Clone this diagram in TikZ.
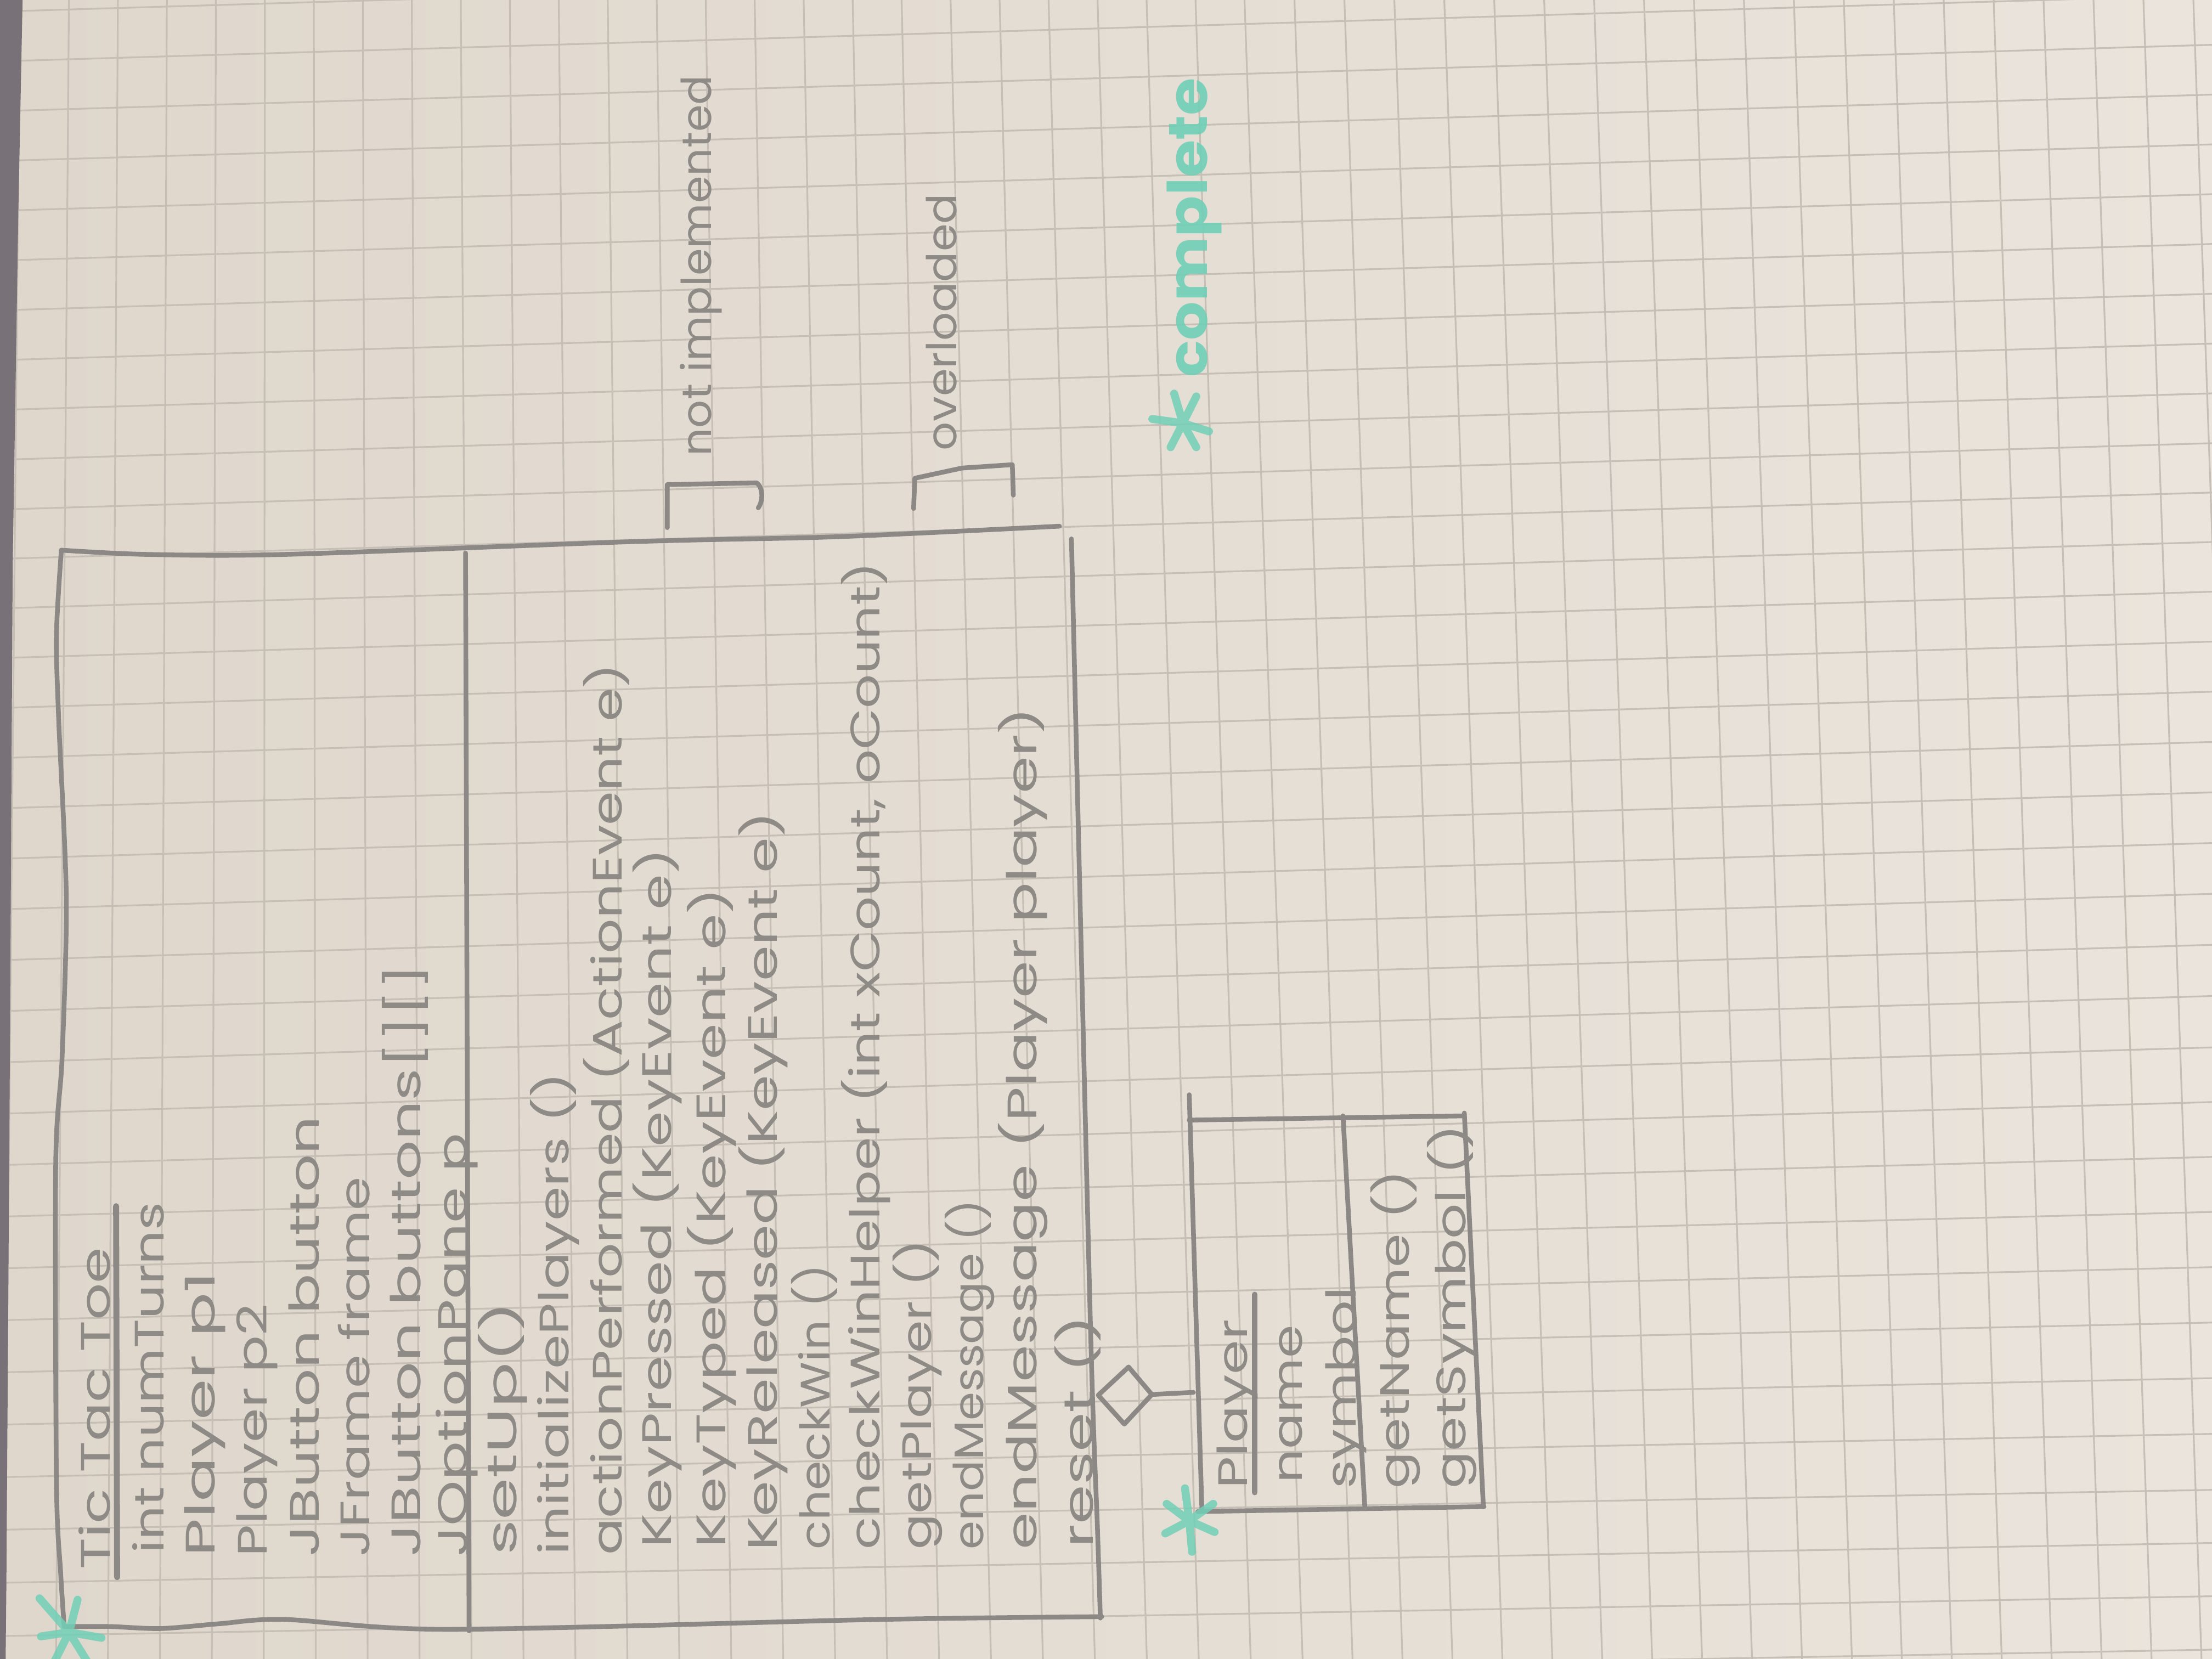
\documentclass[tikz,border=0pt]{standalone}
\usepackage{fontspec}
\setmainfont{Poppins}
\usepackage{graphicx}
\definecolor{paperL}{RGB}{223,215,204}
\definecolor{paperR}{RGB}{234,228,220}
\definecolor{gridc}{RGB}{198,191,182}
\definecolor{pencil}{RGB}{142,138,134}
\definecolor{lead}{RGB}{140,136,133}
\definecolor{marker}{RGB}{112,207,183}
\definecolor{desk}{RGB}{120,113,119}
\newlength\upx
\setlength\upx{0.01cm}
% squeeze or stretch a label to a given run length (in 0.01cm units)
\newcommand\fitto[2]{\resizebox{#1\upx}{\height}{#2}}
\tikzset{
  gridline/.style={draw=gridc, line width=0.35pt},
  pen/.style={draw=lead, line width=0.95pt, line cap=round, line join=round},
  txt/.style={text=pencil, inner sep=0pt, rotate=90, anchor=base west,
              font=\fontsize{8.3}{10}\selectfont},
  hl/.style={text=marker, text opacity=0.9, inner sep=0pt, rotate=90, anchor=base west,
             font=\fontsize{11}{13}\selectfont\bfseries},
  markstroke/.style={draw=marker, line width=1.6pt, line cap=round, opacity=0.85},
}
\begin{document}
\begin{tikzpicture}[x=0.01cm,y=-0.01cm]
\useasboundingbox (0,0) rectangle (1568,1176);
% paper
\shade[left color=paperL,right color=paperR] (0,0) rectangle (1568,1176);
% graph-paper ruling
\begin{scope}
  \clip (0,0) rectangle (1568,1176);
  \foreach \i in {-1,...,44} {
    \pgfmathsetmacro\P{45.9+35.4*\i}
    \pgfmathsetmacro\s{min(0.035,-0.0078+0.00179*\i)}
    \pgfmathsetmacro\xa{\P+\s*(0-380)}
    \pgfmathsetmacro\xb{\P+\s*(1176-380)}
    \draw[gridline] (\xa,0) -- (\xb,1176);
  }
  \foreach \j in {-11,...,25} {
    \pgfmathsetmacro\L{\j<0 ? 358.2+35.3*\j : 358.2+34.9*\j+0.066*(\j)*(\j)}
    \pgfmathsetmacro\t{\j<=12 ? -0.03 : (\j<=20 ? -0.03+0.0015*(\j-12) : -0.018)}
    \pgfmathsetmacro\ya{\L+\t*(0-100)}
    \pgfmathsetmacro\yb{\L+\t*(1568-100)}
    \draw[gridline] (0,\ya) -- (1568,\yb);
  }
\end{scope}
% desk showing past the sheet edge
\fill[desk] (0,0) -- (16,0) -- (13,150) -- (9,400) -- (7,750) -- (4.5,1125) -- (4,1176) -- (0,1176) -- cycle;

% ---- class TicTacToe ----
\draw[pen] plot[smooth,tension=0.5] coordinates {(43.5,390) (104,393) (202,393) (447,384) (577,381) (650,378) (751,373)};
\draw[pen] plot[smooth,tension=0.5] coordinates {(43.5,390) (40,450) (41.6,510) (47,637) (44,750) (39.5,825) (40,1050) (43,1115) (45.5,1153)};
\draw[pen] plot[smooth,tension=0.5] coordinates {(45.5,1153) (78,1153) (114,1154.4) (155.6,1151) (202,1148) (319,1155) (622,1148) (781,1146)};
\draw[pen] plot[smooth,tension=0.5] coordinates {(759.5,382) (772.8,933) (778,1085) (780,1147)};
\draw[pen] (330,392) -- (332.5,1156);

\node[txt] (ttt) at (77.8,1113) {\fitto{228}{Tic Tac Toe}};
\draw[pen,line width=1.2pt] (83,1118) -- (82.3,855);

\node[txt] (a1) at (116,1102)   {\fitto{249}{int numTurns}};
\node[txt] (a2) at (152.3,1104) {\fitto{202}{Player p1}};
\node[txt] (a3) at (189.2,1104) {\fitto{179}{Player p2}};
\node[txt] (a4) at (226,1104)   {\fitto{312}{JButton button}};
\node[txt] (a5) at (262,1104)   {\fitto{269}{JFrame frame}};
\node[txt] (a6) at (298,1104)   {\fitto{420}{JButton buttons[][]}};
\node[txt] (a7) at (331,1104)   {\fitto{300}{JOptionPane p}};

\node[txt] (m1)  at (366.3,1103) {\fitto{180}{setUp()}};
\node[txt] (m2)  at (403,1103)   {\fitto{342}{initializePlayers ()}};
\node[txt] (m3)  at (440.7,1103) {\fitto{632}{actionPerformed (ActionEvent e)}};
\node[txt] (m4)  at (475.7,1098) {\fitto{496}{KeyPressed (KeyEvent e)}};
\node[txt] (m5)  at (514.4,1098) {\fitto{468}{KeyTyped (KeyEvent e)}};
\node[txt] (m6)  at (551,1100)   {\fitto{524}{KeyReleased (KeyEvent e)}};
\node[txt] (m7)  at (588,1099)   {\fitto{202}{checkWin ()}};
\node[txt] (m8)  at (623.6,1099) {\fitto{700}{checkWinHelper (int xCount, oCount)}};
\node[txt] (m9)  at (660,1099)   {\fitto{220}{getPlayer ()}};
\node[txt] (m10) at (697,1099)   {\fitto{248}{endMessage ()}};
\node[txt] (m11) at (735,1099)   {\fitto{597}{endMessage (Player player)}};
\node[txt] (m12) at (774.7,1098) {\fitto{165}{reset ()}};

% side remarks
\draw[pen] (473,374) -- (473,343.5) -- (536.5,342.3) .. controls (541,346) and (541,355) .. (537.5,360);
\node[txt] (nimp) at (504,324) {\fitto{270}{not implemented}};
\draw[pen] (647.6,360.5) -- (648.5,339) -- (681.8,331.8) -- (717.6,329.4) -- (718.3,351);
\node[txt] (ovl) at (678,320) {\fitto{182}{overloaded}};

% ---- class Player ----
\draw[pen] (843,776) -- (852,1071);
\draw[pen] (843,794) -- (1038,791);
\draw[pen] (1038,789) -- (1051.5,1068);
\draw[pen] (849,1071.5) -- (1052,1068);
\draw[pen] (952,791) -- (967.5,1069);
\node[txt] (pl)  at (884,1056)  {\fitto{120}{Player}};
\draw[pen,line width=1.1pt] (889.5,1058) -- (889.5,917.6);
\node[txt] (pa1) at (923,1052)  {\fitto{112}{name}};
\node[txt] (pa2) at (961,1056)  {\fitto{143}{symbol}};
\node[txt] (pm1) at (999,1056)  {\fitto{226}{getName ()}};
\node[txt] (pm2) at (1039,1056) {\fitto{258}{getSymbol ()}};

% aggregation: TicTacToe owns Player
\coordinate (aggTail) at (778.5,989);
\coordinate (dT) at (800,969);
\coordinate (dR) at (816.5,988.5);
\coordinate (dB) at (797,1009.5);
\coordinate (aggHead) at (846,987);
\draw[pen] (aggTail) -- (dT) -- (dR) -- (dB) -- cycle;
\draw[pen] (dR) -- (aggHead);

% highlighter marks
\draw[markstroke] (49,1157) -- +(-21,-24) (49,1157) -- +(6,-23) (49,1157) -- +(23,4)
                  (49,1157) -- +(-20,3) (49,1157) -- +(-11,22) (49,1157) -- +(13,21);
\draw[markstroke] (843,1078) -- +(-3,-23) (843,1078) -- +(17,-12) (843,1078) -- +(18,8)
                  (843,1078) -- +(2,22) (843,1078) -- +(-17,9) (843,1078) -- +(-16,-12);
\draw[markstroke] (838.5,300) -- +(-21.7,-3) (838.5,300) -- +(18.5,5.8) (838.5,300) -- +(-6.2,-21)
                  (838.5,300) -- +(9.5,-19) (838.5,300) -- +(-8.7,17) (838.5,300) -- +(9.5,17);
\node[hl] (cmpl) at (855.6,268) {\fitto{212}{complete}};
\end{tikzpicture}
\end{document}
